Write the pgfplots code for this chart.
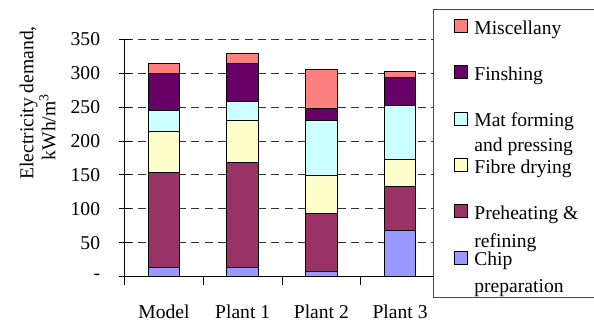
\documentclass[border=0pt]{standalone}
\usepackage{fontspec}
\setmainfont{Liberation Serif}
\usepackage{pgfplots}
\pgfplotsset{compat=1.18}
\definecolor{cChip}{HTML}{9999FF}
\definecolor{cPre}{HTML}{993366}
\definecolor{cFib}{HTML}{FFFFCC}
\definecolor{cMat}{HTML}{CCFFFF}
\definecolor{cFin}{HTML}{660066}
\definecolor{cMis}{HTML}{FF8080}
\begin{document}
\begin{tikzpicture}
\begin{axis}[
  at={(0,0)}, anchor=south west,
  scale only axis, width=231.2pt, height=178pt,
  font=\fontsize{14.7}{17}\selectfont,
  /pgf/number format/assume math mode=true,
  ybar stacked, bar width=23.8pt,
  xmin=-0.5, xmax=3.4175, ymin=0, ymax=350,
  axis x line*=bottom, axis y line*=left,
  axis line style={-, line width=0.75pt, black},
  xtick={0,1,2,3}, xticklabels={Model, Plant 1, Plant 2, Plant 3},
  xtick style={draw=none},
  xticklabel style={anchor=north, inner sep=0pt, text height=10pt, yshift=-12pt},
  extra x ticks={-0.5,0.5,1.5,2.5}, extra x tick labels={},
  extra x tick style={grid=none, major tick length=6pt, tick align=outside, xtick style={draw=black, line width=0.75pt}},
  ytick={0,50,...,350}, yticklabels={-,50,100,150,200,250,300,350},
  yticklabel style={anchor=east, inner sep=0pt, xshift=-9.25pt},
  tick align=outside, major tick length=9pt,
  ytick style={draw=black, line width=0.75pt, xshift=4.5pt},
  ymajorgrids, grid style={black!80, line width=0.75pt, dash pattern=on 6pt off 4pt},
  ylabel={Electricity demand,\\kWh/m\textsuperscript{3}\makebox[36pt]{}},
  ylabel style={align=center, at={(axis description cs:-0.282,0.7317)}, anchor=center, font=\fontsize{14.7}{16.5}\selectfont},
  reverse legend,
  legend image code/.code={\draw[#1, line width=0.75pt] (0pt,0.5pt) rectangle (9.75pt,-9.25pt);},
  legend style={at={(axis description cs:1,1.1276)}, anchor=north west, draw=black!70, line width=0.75pt, fill=white,
    inner xsep=15.2pt, inner ysep=7.2pt, row sep=20pt, column sep=5pt,
    cells={anchor=north west}, nodes={inner sep=0pt, text height=10pt, text depth=3.5pt},
    font=\fontsize{14.7}{17}\selectfont},
]
\addplot[fill=cChip, draw=black, line width=0.75pt] coordinates {(0,13) (1,13) (2,7) (3,68)};
\addlegendentry[text depth=16.5pt]{\rlap{\raisebox{-20.25pt}[0pt][0pt]{preparation}}Chip}
\addplot[fill=cPre, draw=black, line width=0.75pt] coordinates {(0,140) (1,156) (2,86.5) (3,65)};
\addlegendentry{\rlap{\raisebox{-21pt}[0pt][0pt]{refining}}Preheating \&}
\addplot[fill=cFib, draw=black, line width=0.75pt] coordinates {(0,61) (1,61) (2,55) (3,40)};
\addlegendentry{Fibre drying}
\addplot[fill=cMat, draw=black, line width=0.75pt] coordinates {(0,31) (1,29) (2,81.5) (3,80)};
\addlegendentry{\rlap{\raisebox{-18.75pt}[0pt][0pt]{and pressing}}Mat forming}
\addplot[fill=cFin, draw=black, line width=0.75pt] coordinates {(0,55) (1,56) (2,18) (3,40)};
\addlegendentry{Finshing}
\addplot[fill=cMis, draw=black, line width=0.75pt] coordinates {(0,15) (1,14) (2,58) (3,10)};
\addlegendentry{Miscellany}
\end{axis}
\pgfresetboundingbox
\path[use as bounding box] (-93.5pt,-34pt) rectangle (352pt,207.5pt);
\end{tikzpicture}
\end{document}
